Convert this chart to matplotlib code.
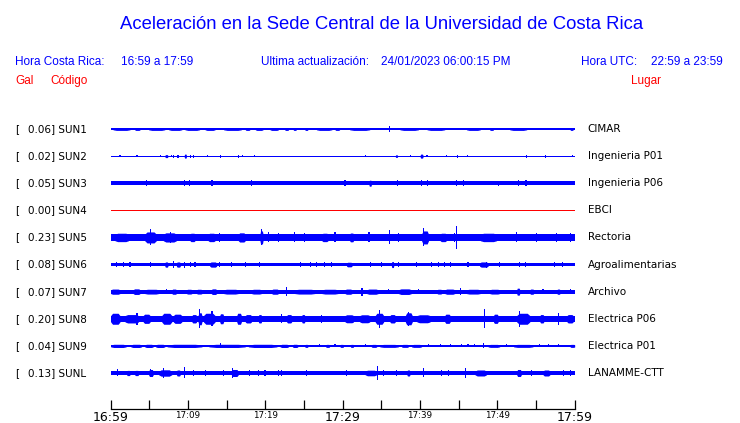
import matplotlib
matplotlib.use("Agg")
import matplotlib.pyplot as plt
from matplotlib.transforms import blended_transform_factory

# station info, top to bottom
stations = ['SUN1', 'SUN2', 'SUN3', 'SUN4', 'SUN5', 'SUN6', 'SUN7', 'SUN8', 'SUN9', 'SUNL']
peak_gal = [0.06, 0.02, 0.05, 0.00, 0.23, 0.08, 0.07, 0.20, 0.04, 0.13]
places = ['CIMAR', 'Ingenieria P01', 'Ingenieria P06', 'EBCI', 'Rectoria',
          'Agroalimentarias', 'Archivo', 'Electrica P06', 'Electrica P01', 'LANAMME-CTT']
# background half-amplitude of each trace (pixels)
base_px = [0.8, 0.55, 2.2, 0.45, 3.3, 1.7, 1.9, 3.2, 1.0, 1.8]

# (start min, end min, half amplitude px)
sun1_events = [(0.3, 2.5, 1.4), (3.1, 3.8, 1.4), (4.9, 7.0, 1.4), (7.5, 9.2, 1.4), (9.6, 11.5, 1.4),
               (12.2, 13.5, 1.4), (14.6, 16.9, 1.4), (17.4, 18.0, 1.4), (18.7, 19.7, 1.4),
               (20.6, 21.7, 1.4), (22.5, 23.0, 1.4), (23.6, 24.0, 1.4), (25.1, 25.5, 1.4),
               (26.6, 28.6, 1.4), (29.0, 29.6, 1.4), (30.9, 33.5, 1.4), (36.1, 36.1, 3.0),
               (37.4, 39.8, 1.4), (40.9, 43.2, 1.4), (46.0, 47.8, 1.4), (49.0, 49.5, 1.4),
               (51.6, 53.8, 1.4), (55.5, 55.5, 1.4), (56.8, 56.8, 1.4), (58.1, 58.1, 1.4),
               (59.4, 59.8, 1.4)]
sun2_events = [(1.2, 1.2, 1.3), (3.4, 3.4, 1.3), (6.4, 6.4, 1.2), (7.0, 7.4, 1.5), (7.9, 7.9, 1.3),
               (8.1, 8.1, 1.5), (8.7, 8.7, 1.5), (9.5, 9.8, 2.0), (10.3, 10.3, 1.5), (10.7, 10.7, 1.5),
               (12.5, 12.5, 1.2), (14.2, 14.2, 1.5), (16.5, 16.7, 1.5), (17.1, 17.1, 1.2),
               (18.6, 18.6, 1.3), (33.0, 33.0, 1.2), (36.8, 37.1, 1.3), (38.8, 38.8, 1.2),
               (40.0, 40.4, 2.0), (40.9, 40.9, 1.2), (43.4, 43.4, 1.3), (44.9, 44.9, 1.5),
               (46.1, 46.1, 1.2), (53.8, 53.8, 1.5), (56.2, 56.2, 1.5), (59.7, 59.7, 1.2)]
sun3_events = [(4.6, 4.6, 3.0), (9.6, 9.6, 3.2), (10.2, 10.2, 3.2), (13.1, 13.1, 3.0), (18.2, 18.2, 3.0),
               (30.3, 30.3, 2.8), (33.4, 33.7, 3.0), (37.1, 37.1, 2.8), (40.2, 40.2, 3.2),
               (41.0, 41.0, 2.8), (44.7, 45.0, 3.0), (45.6, 45.6, 2.8), (50.1, 50.1, 2.7),
               (52.7, 52.7, 2.9), (53.7, 53.7, 3.0)]
sun4_events = []
sun5_events = [(0.55, 2.3, 4.2), (4.4, 5.9, 5.5), (5.2, 5.2, 8.0), (6.8, 8.5, 4.6), (7.7, 7.7, 5.5),
               (10.25, 10.9, 4.2), (12.6, 13.5, 4.2), (14.1, 14.1, 4.5), (16.5, 17.4, 4.6),
               (19.3, 19.7, 6.5), (19.5, 19.5, 8.0), (20.4, 20.4, 5.0), (21.7, 21.7, 4.5),
               (23.8, 23.8, 5.0), (25.1, 25.1, 4.5), (27.3, 28.1, 4.2), (29.0, 29.0, 5.0),
               (30.9, 31.4, 4.4), (33.4, 33.4, 5.0), (36.1, 36.1, 7.0), (37.2, 37.2, 4.5),
               (40.2, 41.1, 6.5), (40.4, 40.4, 9.0), (42.6, 43.4, 4.2), (44.5, 44.8, 4.8),
               (44.7, 44.7, 11.5), (47.8, 49.9, 4.2), (52.5, 52.5, 5.0), (55.1, 55.1, 4.5),
               (57.7, 57.7, 4.5), (59.4, 59.4, 4.5)]
sun6_events = [(0.8, 0.8, 2.3), (1.6, 1.6, 2.3), (2.5, 2.5, 2.5), (5.1, 5.1, 2.3), (7.0, 7.4, 2.6),
               (8.1, 8.1, 3.5), (8.5, 9.0, 2.6), (9.6, 9.6, 3.0), (10.3, 10.3, 2.3), (10.9, 10.9, 2.3),
               (12.8, 13.7, 2.6), (14.1, 14.1, 2.3), (15.6, 15.6, 2.3), (17.4, 17.4, 2.3),
               (19.3, 19.5, 2.6), (24.5, 24.5, 2.3), (25.8, 25.8, 2.3), (26.6, 26.6, 2.3),
               (27.7, 27.7, 2.3), (28.6, 28.6, 2.3), (30.5, 31.2, 2.3), (33.6, 33.6, 2.5),
               (35.0, 35.0, 2.5), (36.3, 36.6, 3.0), (37.2, 37.2, 2.3), (39.6, 39.6, 2.3),
               (41.5, 41.5, 2.3), (42.4, 42.4, 2.5), (43.2, 43.2, 2.3), (43.9, 43.9, 2.3),
               (46.2, 46.2, 2.5), (47.7, 48.8, 2.6), (48.6, 48.6, 3.0), (50.3, 50.3, 2.3),
               (52.9, 52.9, 2.6), (53.6, 53.6, 2.3), (57.4, 57.4, 2.3), (58.4, 58.4, 2.6)]
sun7_events = [(0.0, 1.2, 2.6), (2.9, 3.8, 2.8), (4.4, 6.2, 2.4), (7.2, 7.2, 2.5), (7.9, 8.5, 2.6),
               (9.8, 10.5, 2.4), (11.1, 11.8, 2.4), (13.0, 13.7, 2.8), (14.6, 16.5, 2.4),
               (18.2, 19.5, 2.4), (20.8, 21.7, 2.6), (22.75, 22.75, 4.5), (23.8, 26.4, 2.4),
               (27.3, 29.4, 2.4), (30.3, 31.2, 2.6), (32.5, 32.5, 4.0), (33.1, 34.6, 2.6),
               (35.9, 35.9, 2.6), (37.2, 38.9, 2.8), (39.8, 39.8, 2.6), (42.2, 42.8, 2.4),
               (43.2, 44.5, 2.6), (45.2, 45.4, 3.5), (46.0, 47.8, 2.4), (49.0, 50.3, 2.4),
               (52.5, 52.9, 3.5), (54.2, 54.7, 2.6), (55.9, 55.9, 2.6), (57.7, 58.1, 2.6),
               (59.4, 59.4, 2.4)]
sun8_events = [(0.0, 1.2, 5.5), (1.85, 3.6, 4.2), (3.4, 3.4, 6.0), (4.2, 5.1, 4.6), (6.6, 7.9, 5.5),
               (8.1, 9.2, 4.6), (10.5, 11.1, 4.2), (11.3, 11.8, 6.0), (11.5, 11.5, 9.5),
               (12.0, 13.5, 5.5), (13.1, 13.1, 7.5), (14.1, 14.6, 5.0), (16.3, 16.9, 5.5),
               (17.4, 18.2, 4.2), (19.1, 19.5, 4.2), (22.1, 22.1, 4.5), (22.75, 23.4, 4.2),
               (24.7, 25.1, 4.2), (27.3, 27.3, 4.2), (30.3, 31.4, 4.0), (32.2, 33.5, 4.0),
               (34.2, 35.3, 5.5), (34.7, 34.7, 9.0), (36.1, 36.8, 4.2), (38.1, 39.0, 6.0),
               (38.5, 38.5, 7.0), (39.6, 41.3, 4.0), (43.2, 43.9, 4.6), (48.3, 48.3, 9.5),
               (49.5, 50.1, 4.6), (52.5, 54.2, 5.5), (52.9, 52.9, 8.0), (55.5, 56.0, 4.2),
               (57.9, 57.9, 6.0), (59.0, 59.8, 4.2)]
sun9_events = [(0.0, 2.0, 1.6), (2.6, 4.0, 1.6), (4.4, 5.5, 1.6), (5.8, 7.0, 1.6), (7.3, 11.8, 1.6),
               (12.7, 17.4, 1.6), (14.2, 14.2, 2.5), (17.8, 21.5, 1.6), (21.9, 23.0, 1.6),
               (23.5, 24.2, 1.6), (25.1, 25.5, 1.5), (27.0, 27.0, 1.5), (27.8, 28.3, 1.5),
               (29.0, 29.0, 1.5), (29.65, 30.1, 1.5), (31.0, 31.4, 1.5), (32.9, 32.9, 1.5),
               (33.7, 34.4, 1.5), (34.8, 37.2, 1.5), (37.6, 38.5, 1.5), (38.9, 40.2, 1.5),
               (41.1, 41.1, 1.5), (42.6, 42.6, 1.5), (43.9, 43.9, 1.5), (45.4, 45.4, 1.5),
               (46.2, 46.2, 1.5), (47.1, 47.1, 1.5), (48.2, 48.2, 2.5), (48.8, 50.3, 1.5),
               (51.2, 51.2, 1.5), (52.1, 54.6, 1.5), (55.5, 55.5, 1.5), (56.6, 56.6, 1.5),
               (57.9, 57.9, 1.5), (59.4, 60.0, 1.5)]
sunl_events = [(0.9, 0.9, 3.5), (2.06, 2.5, 2.6), (3.1, 3.6, 2.6), (4.9, 5.5, 3.5), (5.1, 5.1, 4.0),
               (6.2, 7.9, 3.2), (6.8, 6.8, 5.0), (8.5, 9.0, 3.0), (9.6, 9.8, 5.5), (10.7, 10.7, 3.0),
               (12.2, 12.2, 2.6), (14.6, 14.6, 2.6), (15.6, 16.5, 3.5), (15.8, 15.8, 5.0),
               (18.0, 18.0, 2.6), (19.1, 19.1, 2.6), (19.95, 19.95, 2.6), (21.7, 21.7, 2.6),
               (22.1, 22.1, 3.0), (25.3, 25.3, 3.0), (30.5, 30.5, 2.6), (32.9, 34.4, 2.8),
               (34.5, 34.5, 7.3), (35.3, 35.5, 2.6), (37.0, 37.0, 2.6), (38.3, 38.7, 3.0),
               (40.4, 40.6, 4.5), (42.8, 42.8, 2.6), (43.7, 43.7, 2.6), (45.9, 45.9, 5.0),
               (47.1, 48.6, 3.0), (52.5, 53.1, 3.5), (54.4, 54.4, 2.6), (55.9, 56.8, 3.0),
               (58.5, 58.5, 2.6), (59.4, 59.4, 2.6)]
events = [sun1_events, sun2_events, sun3_events, sun4_events, sun5_events,
          sun6_events, sun7_events, sun8_events, sun9_events, sunl_events]
trace_colors = ['blue', 'blue', 'blue', 'red', 'blue', 'blue', 'blue', 'blue', 'blue', 'blue']

tick_minutes = [0, 10, 20, 30, 40, 50, 60]
tick_labels = ['16:59', '17:09', '17:19', '17:29', '17:39', '17:49', '17:59']
big_labels = ['16:59', '17:29', '17:59']

W, H = 740, 423
row_px = 27.11  # pixels between traces

fig = plt.figure(figsize=(W / 100, H / 100), dpi=100)
ax = fig.add_axes([110.7 / W, 1 - 409 / H, 464 / W, 294 / H])
ax.set_xlim(0, 60)
ax.set_ylim((409 - 129) / row_px, (115 - 129) / row_px)

for i, (evs, base, col) in enumerate(zip(events, base_px, trace_colors)):
    b = base / row_px
    ax.fill_between([0, 60], i - b, i + b, color=col, linewidth=0)
    for t0, t1, h in evs:
        hh = h / row_px
        if t1 - t0 < 0.3:
            # single spike, about one pixel wide
            ax.bar(t0 - 0.07, 2 * hh, width=0.14, bottom=i - hh, align='edge',
                   color=col, linewidth=0)
        else:
            # burst: trapezoid envelope
            r = (t1 - t0) / 5
            xs = [t0, t0 + r, t1 - r, t1]
            env = [b, hh, hh, b]
            ax.fill_between(xs, [i - e for e in env], [i + e for e in env],
                            color=col, linewidth=0)

for s in ['top', 'left', 'right']:
    ax.spines[s].set_visible(False)
ax.spines['bottom'].set_linewidth(0.9)
ax.set_yticks([])
ax.set_xticks(range(0, 61, 5))
ax.set_xticklabels([tick_labels[tick_minutes.index(m)] if m in tick_minutes else ''
                    for m in range(0, 61, 5)])
ax.tick_params(axis='x', direction='in', length=6.5, width=0.9, pad=1.5)
for lbl in ax.get_xticklabels():
    lbl.set_fontfamily('DejaVu Sans')
    lbl.set_fontsize(9 if lbl.get_text() in big_labels else 6.3)

# station labels on both sides
tr = blended_transform_factory(fig.transFigure, ax.transData)
for i in range(len(stations)):
    ax.text(15 / W, i, '[', transform=tr, fontsize=7.5, va='center', ha='left')
    ax.text(27.7 / W, i, '%.2f] %s' % (peak_gal[i], stations[i]), transform=tr,
            fontsize=7.5, va='center', ha='left')
    ax.text(587.7 / W, i, places[i], transform=tr, fontsize=7.5, va='center', ha='left')

# header
hf = 'Liberation Sans'
fig.text(381.5 / W, 1 - 29 / H, 'Aceleración en la Sede Central de la Universidad de Costa Rica',
         color='blue', fontsize=13.3, family=hf, ha='center', va='baseline')
fig.text(15 / W, 1 - 65 / H, 'Hora Costa Rica:', color='blue', fontsize=8.5, family=hf, va='baseline')
fig.text(120.7 / W, 1 - 65 / H, '16:59 a 17:59', color='blue', fontsize=8.5, family=hf, va='baseline')
fig.text(260.7 / W, 1 - 65 / H, 'Ultima actualización:', color='blue', fontsize=8.5, family=hf, va='baseline')
fig.text(380.7 / W, 1 - 65 / H, '24/01/2023 06:00:15 PM', color='blue', fontsize=8.5, family=hf, va='baseline')
fig.text(580.7 / W, 1 - 65 / H, 'Hora UTC:', color='blue', fontsize=8.5, family=hf, va='baseline')
fig.text(650.7 / W, 1 - 65 / H, '22:59 a 23:59', color='blue', fontsize=8.5, family=hf, va='baseline')
fig.text(15 / W, 1 - 84 / H, 'Gal', color='red', fontsize=8.5, family=hf, va='baseline')
fig.text(50 / W, 1 - 84 / H, 'Código', color='red', fontsize=8.5, family=hf, va='baseline')
fig.text(630.7 / W, 1 - 84 / H, 'Lugar', color='red', fontsize=8.5, family=hf, va='baseline')

fig.savefig('out.png', dpi=100)
